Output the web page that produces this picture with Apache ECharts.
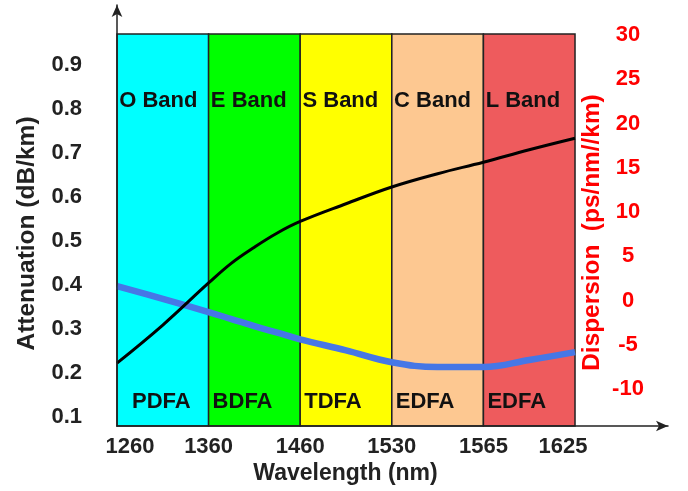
<!DOCTYPE html>
<html>
<head>
<meta charset="utf-8">
<script src="https://cdn.jsdelivr.net/npm/echarts@6/dist/echarts.min.js"></script>
<style>html,body{margin:0;padding:0;background:#fff}#c{width:688px;height:491px}</style>
</head>
<body>
<div id="c"></div>
<script>
// ---- data ----
const tickLabels = ['1260', '1360', '1460', '1530', '1565', '1625'];
const bandNames = ['O Band', 'E Band', 'S Band', 'C Band', 'L Band'];
const amplifiers = ['PDFA', 'BDFA', 'TDFA', 'EDFA', 'EDFA'];
const attTicks = [0.1, 0.2, 0.3, 0.4, 0.5, 0.6, 0.7, 0.8, 0.9];
const dispTicks = [-10, -5, 0, 5, 10, 15, 20, 25, 30];
// positions along the wavelength axis measured in band units (0 = 1260, 5 = 1625)
const curvePos = [0, 0.5, 1, 1.25, 1.5, 1.75, 2, 2.5, 3, 3.5, 4, 4.5, 5];
const attenuation = [0.393, 0.364, 0.334, 0.318, 0.302, 0.287, 0.272, 0.247, 0.220, 0.209, 0.209, 0.225, 0.243];
const dispersion = [-7.3, -3.0, 1.75, 4.0, 5.8, 7.4, 8.7, 10.7, 12.6, 14.1, 15.4, 16.8, 18.1];

// ---- styles ----
const bandColors = ['#00FFFF', '#00FF00', '#FFFF00', '#FDC891', '#EE5B5D'];
const FONT = 'Liberation Sans, Arial, sans-serif';

const chart = echarts.init(document.getElementById('c'), null, {renderer: 'canvas'});

const attMin = 0.075, attMax = 1.032, attTop = 0.966;
const bandAreas = bandNames.map((n, i) => [
  {xAxis: i, yAxis: attMin, name: n, itemStyle: {color: bandColors[i]}},
  {xAxis: i + 1, yAxis: attTop}
]);
const ampAreas = amplifiers.map((n, i) => [
  {xAxis: i, yAxis: attMin, name: n, label: i === 0 ? {position: [15, 368]} : {}},
  {xAxis: i + 1, yAxis: attTop}
]);

const labelRich = (color) => ({
  a: {fontFamily: FONT, fontWeight: 'bold', fontSize: 22, color: color, padding: [4, 0, 0, 0]}
});

const option = {
  animation: false,
  backgroundColor: '#fff',
  grid: {left: 117, right: 20, top: 5, bottom: 65},
  xAxis: {
    type: 'value', min: 0, max: 6.015,
    name: 'Wavelength (nm)', nameLocation: 'middle', nameGap: 36, nameMoveOverlap: false,
    nameTextStyle: {fontFamily: FONT, fontWeight: 'bold', fontSize: 23, color: '#222', padding: [0, 94, 0, 0]},
    axisLine: {show: true, onZero: false, symbol: ['none', 'arrow'], symbolSize: [8, 12], lineStyle: {color: '#222', width: 1.5}},
    axisTick: {show: false},
    splitLine: {show: false},
    z: 10,
    axisLabel: {
      customValues: [0, 1, 2, 3, 4, 5], margin: 10,
      fontFamily: FONT, fontWeight: 'bold', fontSize: 22, color: '#222',
      formatter: v => {
        const t = tickLabels[Math.round(v)];
        if (v === 0) return '{f|' + t + '}';
        if (v === 5) return '{l|' + t + '}';
        return t;
      },
      rich: {
        f: {fontFamily: FONT, fontWeight: 'bold', fontSize: 22, color: '#222', padding: [0, 0, 0, 26]},
        l: {fontFamily: FONT, fontWeight: 'bold', fontSize: 22, color: '#222', padding: [0, 24, 0, 0]}
      }
    }
  },
  yAxis: [
    {
      type: 'value', min: attMin, max: attMax, position: 'left',
      name: 'Attenuation (dB/km)', nameLocation: 'middle', nameGap: 77, nameMoveOverlap: false,
      nameTextStyle: {fontFamily: FONT, fontWeight: 'bold', fontSize: 24.5, color: '#222', padding: [0, 36, 0, 0]},
      axisLine: {show: true, onZero: false, symbol: ['none', 'arrow'], symbolSize: [8, 12], lineStyle: {color: '#222', width: 1.5}},
      axisTick: {show: false},
      splitLine: {show: false},
      z: 10,
      axisLabel: {
        customValues: attTicks, margin: 35,
        fontFamily: FONT, fontWeight: 'bold', fontSize: 22, color: '#222',
        formatter: v => '{a|' + v.toFixed(1) + '}',
        rich: labelRich('#222')
      }
    },
    {
      type: 'value', min: -14.41, max: 33.16, position: 'right', offset: -93,
      name: 'Dispersion  (ps/nm//km)', nameLocation: 'middle', nameGap: 5, nameRotate: 90, nameMoveOverlap: false,
      nameTextStyle: {fontFamily: FONT, fontWeight: 'bold', fontSize: 24.4, color: '#FF0000', padding: [0, 34, 0, 0]},
      axisLine: {show: false},
      axisTick: {show: false},
      splitLine: {show: false},
      axisLabel: {
        customValues: dispTicks, margin: 53, align: 'center',
        fontFamily: FONT, fontWeight: 'bold', fontSize: 22, color: '#FF0000',
        formatter: v => '{a|' + v + '}',
        rich: labelRich('#FF0000')
      }
    }
  ],
  series: [
    {
      type: 'line', yAxisIndex: 0, z: 3,
      data: curvePos.map((p, i) => [p, attenuation[i]]),
      smooth: 0.4, symbol: 'none',
      lineStyle: {color: '#4677E6', width: 6.5},
      markArea: {
        silent: true,
        itemStyle: {borderColor: '#222', borderWidth: 1.5},
        label: {
          show: true, position: [3, 68], align: 'left', verticalAlign: 'middle',
          fontFamily: FONT, fontWeight: 'bold', fontSize: 22, color: '#111'
        },
        data: bandAreas
      }
    },
    {
      type: 'line', yAxisIndex: 0, z: 2,
      data: [],
      markArea: {
        silent: true,
        itemStyle: {color: 'rgba(0,0,0,0)', borderWidth: 0},
        label: {
          show: true, position: [4, 368], align: 'left', verticalAlign: 'middle',
          fontFamily: FONT, fontWeight: 'bold', fontSize: 22, color: '#111'
        },
        data: ampAreas
      }
    },
    {
      type: 'line', yAxisIndex: 1, z: 4,
      data: curvePos.map((p, i) => [p, dispersion[i]]),
      smooth: 0.4, symbol: 'none',
      lineStyle: {color: '#000', width: 3}
    }
  ]
};
chart.setOption(option);
</script>
</body>
</html>
